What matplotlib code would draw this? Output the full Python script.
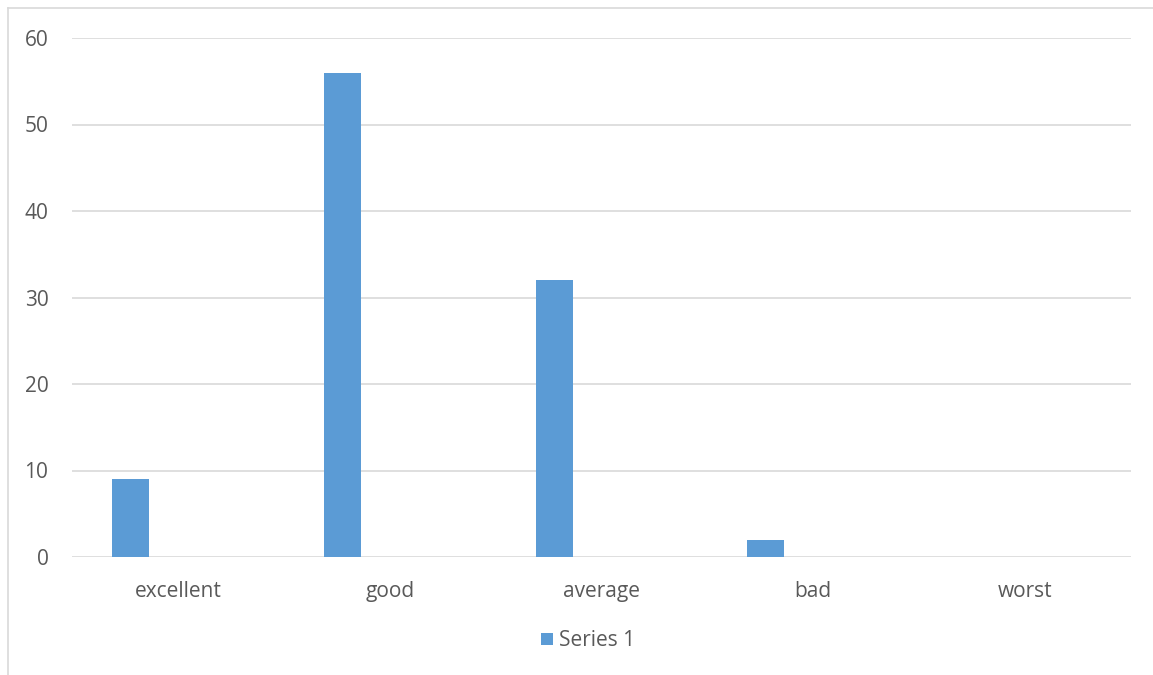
import numpy as np
import matplotlib.pyplot as plt
from matplotlib.lines import Line2D

categories = ["excellent", "good", "average", "bad", "worst"]
series1 = [9, 56, 32, 2, 0]
yticks = [0, 10, 20, 30, 40, 50, 60]

plt.rcParams['font.family'] = ['Open Sans', 'DejaVu Sans']

fig = plt.figure(figsize=(11.53, 6.75), dpi=100)
ax = fig.add_axes([72/1153, 1-557/675, (1131-72)/1153, (557-38)/675])

x = np.arange(len(categories))
ax.bar(x - 0.224, series1, width=0.175, color="#5b9bd5", label="Series 1", zorder=3)

ax.set_xlim(-0.5, len(categories) - 0.5)
ax.set_ylim(0, 60)
ax.set_yticks(yticks)
ax.set_xticks(x)
ax.set_xticklabels(categories)
ax.tick_params(axis="both", length=0, labelsize=15, colors="#595959")
ax.tick_params(axis="x", pad=17)
ax.tick_params(axis="y", pad=17)
ax.grid(axis="y", color="#d9d9d9", linewidth=1.2, zorder=0)
for s in ax.spines.values():
    s.set_visible(False)

leg = fig.legend(loc="center", bbox_to_anchor=(588/1153, 1-641/675), frameon=False,
                 fontsize=15, handlelength=0.55, handleheight=0.55, handletextpad=0.3)
for t in leg.get_texts():
    t.set_color("#595959")

# chart area border
fig.add_artist(Line2D([8/1153, 8/1153], [0, 1-8/675], color="#d9d9d9", linewidth=1.2))
fig.add_artist(Line2D([8/1153, 1], [1-8/675, 1-8/675], color="#d9d9d9", linewidth=1.2))

fig.savefig("out.png", dpi=100)
